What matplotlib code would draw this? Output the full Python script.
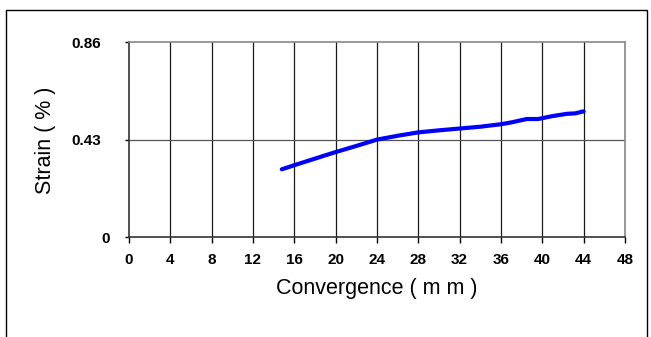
import matplotlib.pyplot as plt
from matplotlib.patches import Rectangle
from matplotlib.transforms import ScaledTranslation

# convergence (mm) vs strain (%)
convergence = [14.8, 16, 18, 20, 22, 24, 26, 28, 30, 32, 34, 36, 37, 38.5, 39.6, 41, 42.4, 43.2, 44]
strain = [0.300, 0.318, 0.347, 0.376, 0.403, 0.431, 0.448, 0.463, 0.472, 0.480, 0.488, 0.499,
          0.507, 0.522, 0.522, 0.535, 0.545, 0.547, 0.556]

x_ticks = list(range(0, 49, 4))
y_ticks = [0, 0.43, 0.86]
y_ticklabels = ['0', '0.43', '0.86']

plt.rcParams['font.family'] = ['Liberation Sans', 'DejaVu Sans']

fig = plt.figure(figsize=(6.51, 3.37), dpi=100)
ax = fig.add_axes([0.198, 0.296, 0.762, 0.578])

# outer frame around the whole chart
fig.patches.append(Rectangle((5.5 / 651, -0.2), 641 / 651, 1.2 - 9.5 / 337,
                             transform=fig.transFigure, fill=False,
                             edgecolor='black', linewidth=1.0))

ax.plot(convergence, strain, color='#0000FF', linewidth=3, solid_capstyle='round')

ax.set_xlim(0, 48)
ax.set_ylim(0, 0.86)
ax.set_xticks(x_ticks)
ax.set_yticks(y_ticks)
ax.set_yticklabels(y_ticklabels)

for x in x_ticks[1:-1]:
    ax.axvline(x, color='#1a1a1a', linewidth=0.9, zorder=0)
ax.axhline(0.43, color='#555555', linewidth=0.9, zorder=0)

ax.spines['top'].set_color('#888888')
ax.spines['right'].set_color('#888888')
ax.spines['left'].set_color('#333333')
ax.spines['bottom'].set_color('#333333')
for s in ax.spines.values():
    s.set_linewidth(1.2)

ax.tick_params(axis='x', direction='out', length=4, width=1, pad=7, labelsize=11)
ax.tick_params(axis='y', direction='out', length=3, width=1, pad=17, labelsize=11)
for lab in ax.get_xticklabels() + ax.get_yticklabels():
    lab.set_fontweight('bold')

# the zero label sits closer to the axis
zero_lab = ax.get_yticklabels()[0]
zero_lab.set_transform(zero_lab.get_transform() + ScaledTranslation(9 / 100, 0, fig.dpi_scale_trans))

ax.set_xlabel('Convergence ( m m )', fontsize=15.5, labelpad=8)
ax.set_ylabel('Strain ( % )', fontsize=15.5, labelpad=11)

fig.savefig('out.png', dpi=100)
